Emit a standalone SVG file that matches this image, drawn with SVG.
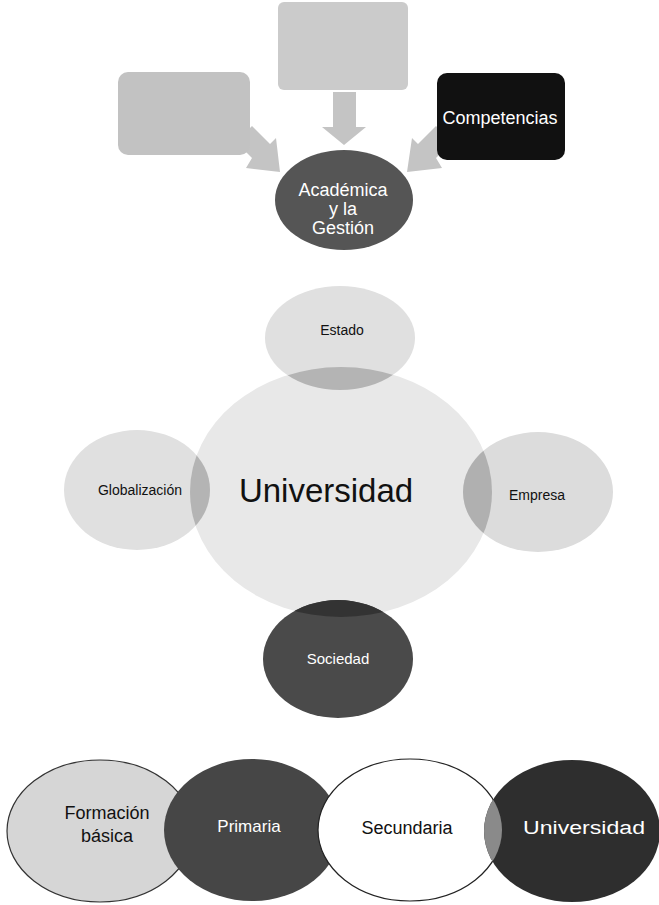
<svg xmlns="http://www.w3.org/2000/svg" width="659" height="905" viewBox="0 0 659 905">
<style>
.t{font-family:"Liberation Sans",Arial,sans-serif;text-anchor:middle;dominant-baseline:central}
.w{fill:#fff}
.k{fill:#111}
</style>
<defs>
<clipPath id="cpUni"><ellipse cx="341" cy="492" rx="151" ry="125"/></clipPath>
<clipPath id="cpSec"><ellipse cx="410" cy="830" rx="92" ry="71"/></clipPath>
</defs>
<rect width="659" height="905" fill="#fff"/>

<g id="connectors">
<polygon points="236,142 252,126 270,144 276,138 280,172 246,168 252,158" fill="#c4c4c4"/>
<polygon points="333,92 356,92 356,127 366,127 344,145 322,127 333,127" fill="#c4c4c4"/>
<polygon points="452,142 436,126 418,144 412,138 407,172 442,168 436,158" fill="#c4c4c4"/>
</g>

<g id="node-topleft">
<rect x="118" y="72" width="132" height="83" rx="10" fill="#c2c2c2"/>
</g>
<g id="node-top">
<rect x="278" y="2" width="130" height="88" rx="6" fill="#cbcbcb"/>
</g>
<g id="node-competencias">
<rect x="437" y="73" width="128" height="87" rx="10" fill="#111"/>
<text class="t w" x="500" y="118" font-size="18">Competencias</text>
</g>
<g id="node-academica">
<ellipse cx="344" cy="200" rx="69" ry="50" fill="#555"/>
<text class="t w" x="343" y="190" font-size="18">Académica</text>
<text class="t w" x="343" y="209" font-size="18">y la</text>
<text class="t w" x="343" y="228" font-size="18">Gestión</text>
</g>

<g id="node-universidad">
<ellipse cx="341" cy="492" rx="151" ry="125" fill="#e8e8e8"/>
<text class="t k" x="326" y="490" font-size="33">Universidad</text>
</g>
<g id="node-estado">
<ellipse cx="340" cy="338" rx="75" ry="52" fill="#e0e0e0"/>
<ellipse cx="340" cy="338" rx="75" ry="52" fill="#b4b4b4" clip-path="url(#cpUni)"/>
<text class="t k" x="342" y="330" font-size="14">Estado</text>
</g>
<g id="node-globalizacion">
<ellipse cx="137" cy="490" rx="73" ry="60" fill="#e0e0e0"/>
<ellipse cx="137" cy="490" rx="73" ry="60" fill="#b4b4b4" clip-path="url(#cpUni)"/>
<text class="t k" x="140" y="490" font-size="14">Globalización</text>
</g>
<g id="node-empresa">
<ellipse cx="538" cy="492" rx="75" ry="60" fill="#dcdcdc"/>
<ellipse cx="538" cy="492" rx="75" ry="60" fill="#b0b0b0" clip-path="url(#cpUni)"/>
<text class="t k" x="537" y="495" font-size="14">Empresa</text>
</g>
<g id="node-sociedad">
<ellipse cx="338" cy="659" rx="75" ry="59" fill="#4a4a4a"/>
<ellipse cx="338" cy="659" rx="75" ry="59" fill="#333" clip-path="url(#cpUni)"/>
<text class="t w" x="338" y="658" font-size="15">Sociedad</text>
</g>

<g id="node-formacion">
<ellipse cx="100" cy="831" rx="93" ry="71" fill="#d6d6d6" stroke="#333" stroke-width="1.2"/>
<text class="t k" x="107" y="813" font-size="18">Formación</text>
<text class="t k" x="107" y="836" font-size="18">básica</text>
</g>
<g id="node-primaria">
<ellipse cx="252" cy="830" rx="88" ry="71" fill="#464646"/>
<text class="t w" x="249" y="826" font-size="17">Primaria</text>
</g>
<g id="node-secundaria">
<ellipse cx="410" cy="830" rx="92" ry="71" fill="#fff" stroke="#222" stroke-width="1.2"/>
<text class="t k" x="407" y="828" font-size="18">Secundaria</text>
</g>
<g id="node-universidad2">
<ellipse cx="572" cy="831" rx="88" ry="71" fill="#2e2e2e"/>
<ellipse cx="572" cy="831" rx="88" ry="71" fill="#8a8a8a" clip-path="url(#cpSec)"/>
<text class="t w" x="584" y="828" font-size="18" textLength="122" lengthAdjust="spacingAndGlyphs">Universidad</text>
</g>
</svg>
